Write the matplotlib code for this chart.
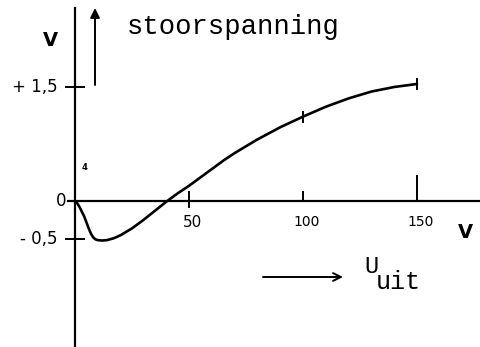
# Stoorspanning as function of U_uit, drawn in the style of a hand sketch

import numpy as np
import matplotlib.pyplot as plt

# Curve readings
u_uit = [0, 1, 2, 3, 4, 5, 6, 7, 8, 9, 10, 12, 14, 17, 20, 25, 30, 35, 40,
         45, 50, 55, 60, 65, 70, 80, 90, 100, 110, 120, 130, 140, 150]
stoor = [0, -0.03, -0.08, -0.14, -0.20, -0.28, -0.36, -0.43, -0.48, -0.505,
         -0.515, -0.52, -0.515, -0.49, -0.45, -0.36, -0.25, -0.13, -0.01,
         0.10, 0.20, 0.31, 0.42, 0.53, 0.63, 0.81, 0.97, 1.11, 1.24, 1.35,
         1.44, 1.50, 1.54]

# Axis marks
xticks = [50, 100, 150]
xticklabels = ['50', '100', '150']
yticks = [1.5, -0.5]
yticklabels = ['+ 1,5', '- 0,5']
curve_marks = [100, 150]

W, H = 480, 347
fig = plt.figure(figsize=(W / 100, H / 100), dpi=100)
ax = fig.add_axes([0, 0, 1, 1])
ax.set_axis_off()

# pixel scale: origin at (75, 201), 114 px per 50 V, 76 px per volt
sx = 50 / 114
sy = 1 / 76
ax.set_xlim(-75 * sx, (W - 75) * sx)
ax.set_ylim(-(H - 201) * sy, 201 * sy)

def px(x, y):
    return x / W, 1 - y / H

# axes
ax.plot([0, 0], [-(H - 201) * sy, (201 - 8) * sy], color='k', lw=1.6)
ax.plot([-7 * sx, (W - 75) * sx], [0, 0], color='k', lw=1.6)

# arrow next to the vertical axis
ax.annotate('', xy=(20 * sx, (201 - 8) * sy), xytext=(20 * sx, (201 - 85) * sy),
            arrowprops=dict(arrowstyle='-|>', color='k', lw=1.4,
                            mutation_scale=14, shrinkA=0, shrinkB=0))

# ticks on the axes
for t in yticks:
    ax.plot([-9 * sx, 9 * sx], [t, t], color='k', lw=1.4)
for t in xticks:
    top = 25 if t == 150 else 9
    bot = 6 if t == 50 else 0
    ax.plot([t, t], [-bot * sy, top * sy], color='k', lw=1.4)

# curve
ax.plot(u_uit, stoor, color='k', lw=1.9, solid_capstyle='round',
        solid_joinstyle='round')
for m in curve_marks:
    v = stoor[u_uit.index(m)]
    ax.plot([m, m], [v - 5 * sy, v + 5 * sy], color='k', lw=1.4)

# labels
hand = dict(family='DejaVu Sans', color='k')
ax.text(-3 * sx, 0, '0 ', ha='right', va='center', fontsize=12, **hand)
for t, lab in zip(yticks, yticklabels):
    ax.text(-17 * sx, t, lab, ha='right', va='center', fontsize=12, **hand)
for t, lab in zip(xticks, xticklabels):
    ax.text(t + 4 * sx, -21 * sy, lab, ha='center', va='center',
            fontsize=10 if t != 50 else 11, **hand)

fig.text(*px(50, 40), 'V', ha='center', va='center', fontsize=14,
         fontweight='bold', **hand)
fig.text(*px(465, 233), 'V', ha='center', va='center', fontsize=14,
         fontweight='bold', **hand)
fig.text(*px(84, 167), '4', ha='center', va='center', fontsize=6,
         fontweight='bold', **hand)

mono = dict(family='Liberation Mono', color='k')
fig.text(*px(127, 34), 'stoorspanning', ha='left', va='baseline',
         fontsize=19.6, **mono)
fig.text(*px(364, 273), 'U', ha='left', va='baseline', fontsize=17, **mono)
fig.text(*px(376, 289), 'uit', ha='left', va='baseline', fontsize=18, **mono)

ax.annotate('', xy=(343 * sx - 75 * sx, (201 - 277) * sy),
            xytext=(263 * sx - 75 * sx, (201 - 277) * sy),
            arrowprops=dict(arrowstyle='->', color='k', lw=1.4,
                            mutation_scale=14, shrinkA=0, shrinkB=0))

fig.savefig('out.png', dpi=100)
